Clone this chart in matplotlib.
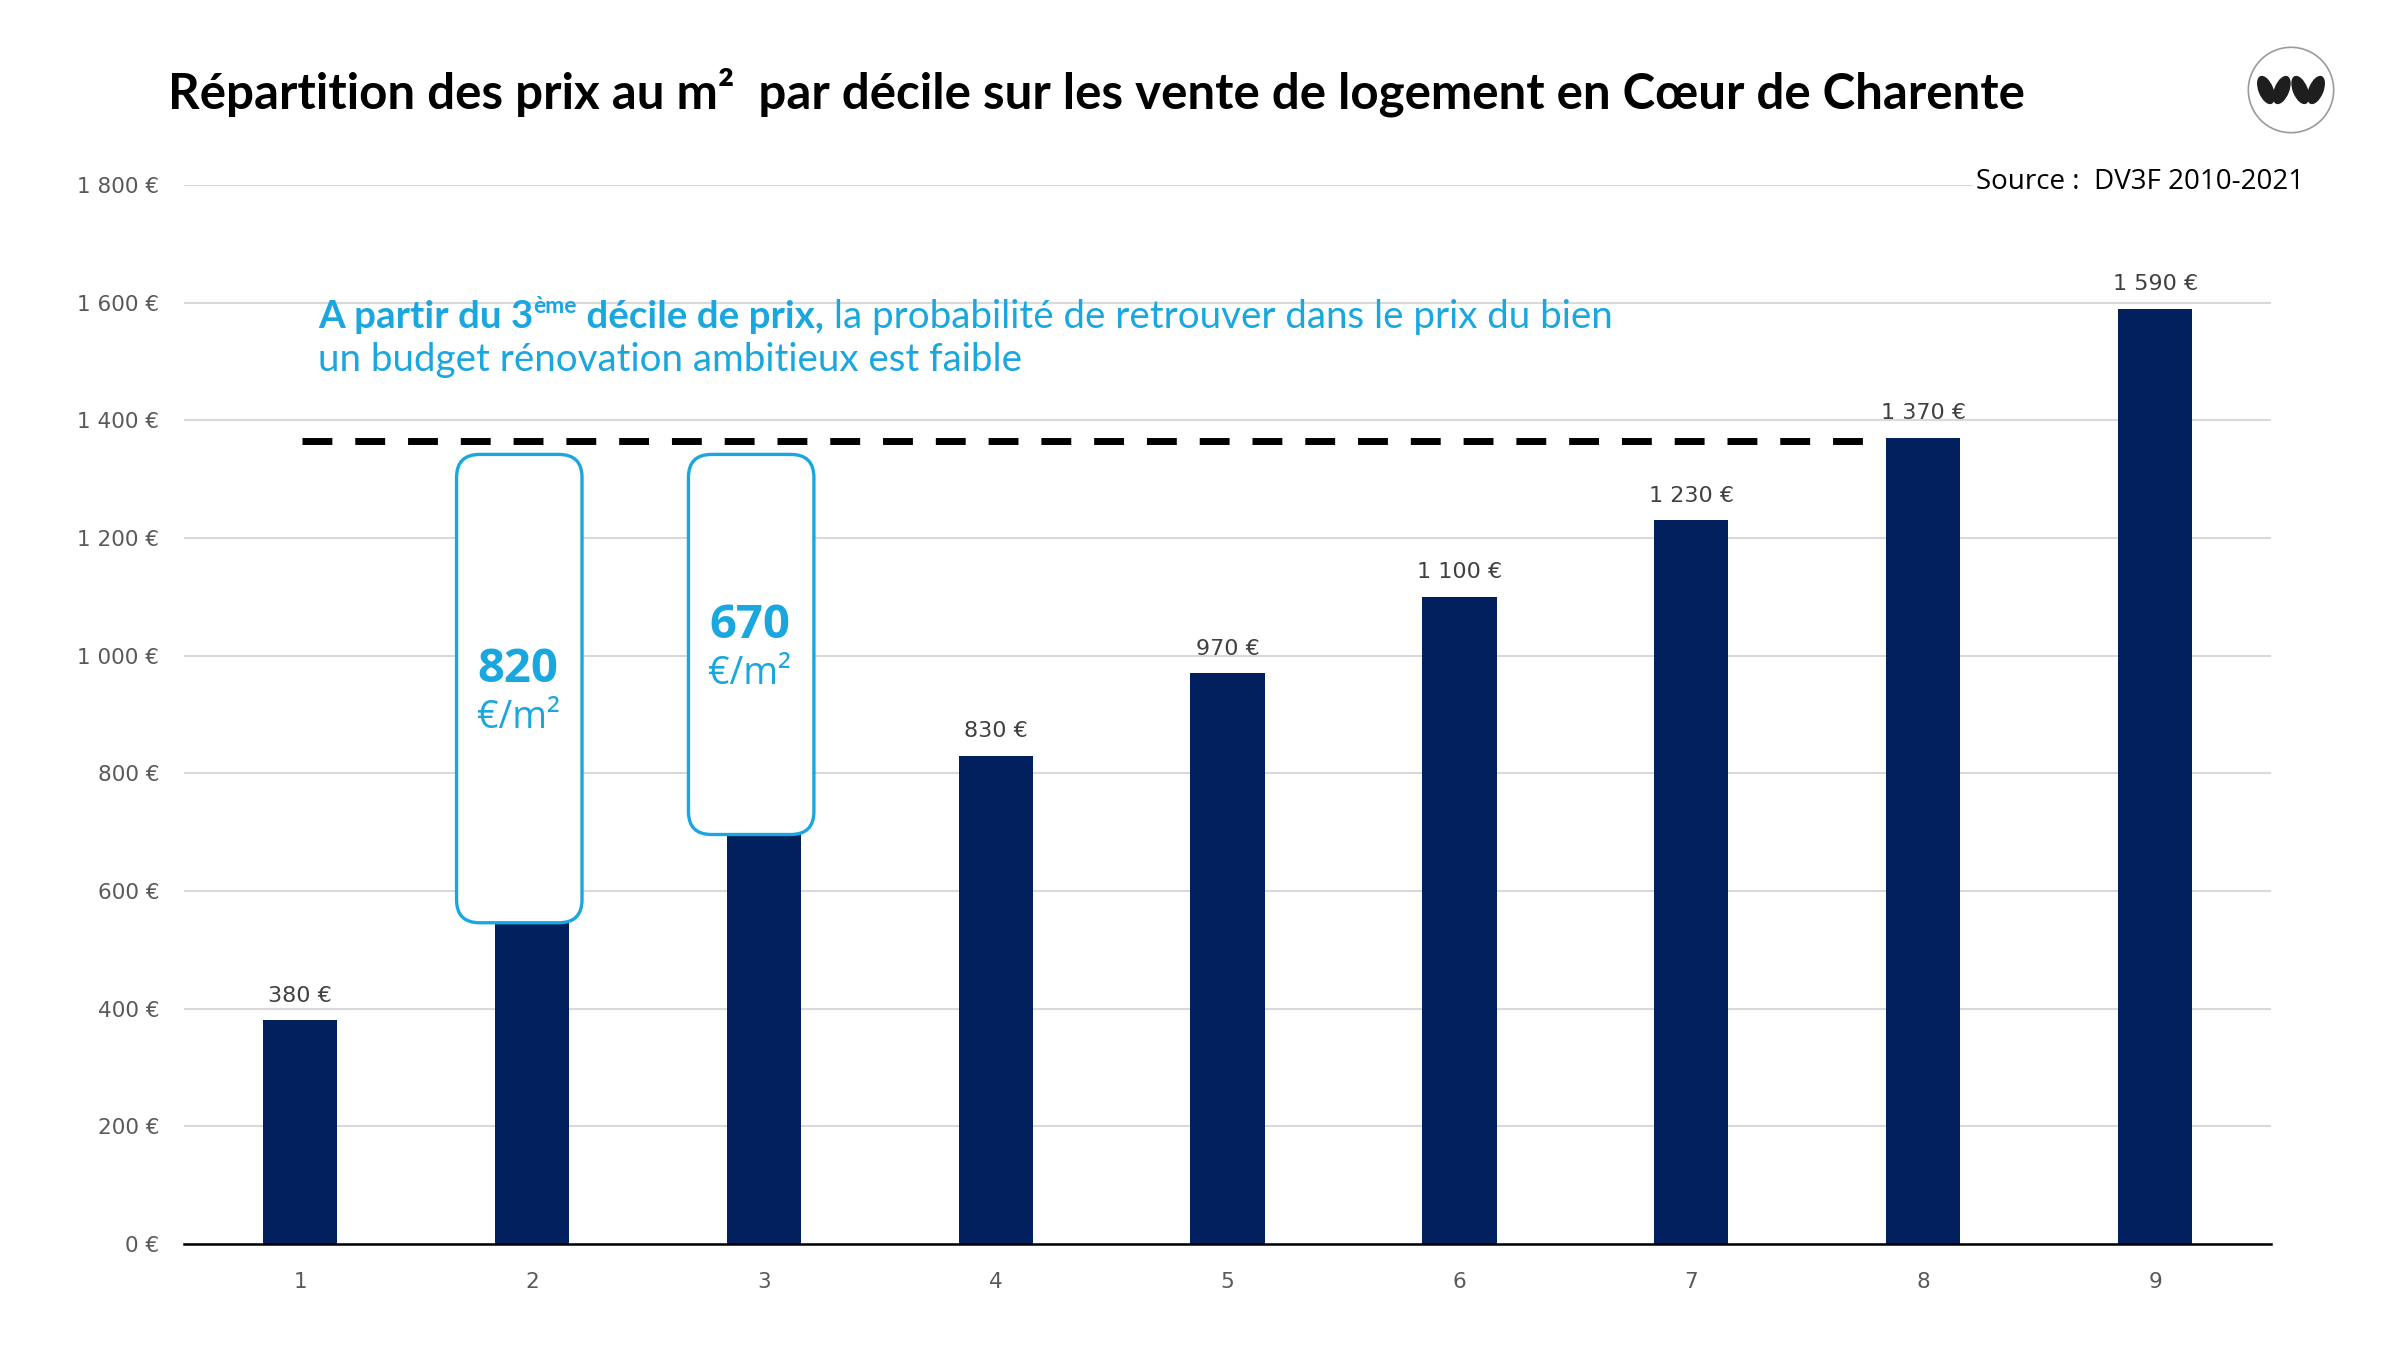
import matplotlib
matplotlib.use("Agg")
import matplotlib.pyplot as plt
from matplotlib.patches import FancyBboxPatch, Circle, Ellipse
import numpy as np

# data
deciles = [1, 2, 3, 4, 5, 6, 7, 8, 9]
prices = [380, 550, 700, 830, 970, 1100, 1230, 1370, 1590]
yticks = [0, 200, 400, 600, 800, 1000, 1200, 1400, 1600, 1800]
gaps = [820, 670]          # écart au 8e décile, déciles 2 et 3
gap_deciles = [2, 3]
ref_price = 1370

NAVY = "#03205E"
BLUE = "#1AA7DF"
GRAY = "#595959"


def fmt(v):
    return f"{v:,}".replace(",", " ") + " €"


fig = plt.figure(figsize=(24, 13.5), dpi=100)
ax = fig.add_axes([0.0767, 0.0785, 0.8696, 0.7845])

ax.bar(deciles, prices, width=0.32, color=NAVY, zorder=2)
for x, v in zip(deciles, prices):
    ax.text(x, v + 25, fmt(v), ha="center", va="bottom", fontsize=16,
            color="#404040", zorder=3)

ax.set_xlim(0.5, 9.5)
ax.set_ylim(0, 1800)
ax.set_yticks(yticks)
ax.set_yticklabels([fmt(v) for v in yticks], fontsize=15.5, color=GRAY)
ax.set_xticks(deciles)
ax.set_xticklabels([str(d) for d in deciles], fontsize=15.5, color=GRAY)
ax.tick_params(length=0, pad=18)
ax.tick_params(axis="x", pad=20)
ax.grid(axis="y", color="#D9D9D9", lw=1.5, zorder=0)
for s in ["top", "right", "left"]:
    ax.spines[s].set_visible(False)
ax.spines["bottom"].set_color("black")
ax.spines["bottom"].set_linewidth(1.8)

# ligne pointillée au niveau du 8e décile
ax.plot([1.01, 7.83], [ref_price - 5, ref_price - 5], color="black", lw=5,
        dashes=(4.3, 3.3), zorder=4)

# encadrés des écarts
for d, g in zip(gap_deciles, gaps):
    base = ref_price - g - 4
    top = 1342
    box = FancyBboxPatch((d - 0.325, base), 0.541, top - base,
                         boxstyle="round,pad=0,rounding_size=0.1",
                         mutation_aspect=390, fc="white", ec=BLUE, lw=2.4, zorder=5)
    ax.add_patch(box)
    mid = (base + top) / 2
    ax.text(d - 0.06, mid + 32, str(g), ha="center", va="center", fontsize=34,
            fontweight="bold", color=BLUE, family="Open Sans", zorder=6)
    ax.text(d - 0.06, mid - 50, "€/m²", ha="center", va="center", fontsize=27,
            color=BLUE, family="Open Sans", zorder=6)

# titre
fig.text(0.07, 0.932, "Répartition des prix au m²  par décile sur les vente de logement en Cœur de Charente",
         fontsize=35.5, fontweight="bold", family="Lato", va="center", ha="left")
fig.text(0.96, 0.865, "Source :  DV3F 2010-2021", fontsize=20, family="Open Sans",
         ha="right", va="center", bbox=dict(fc="white", ec="none", pad=2))

# texte d'annotation en morceaux (gras / normal / exposant)
fig.canvas.draw()
r = fig.canvas.get_renderer()
x0, y1, y2 = 318 / 2400, 1 - 328 / 1350, 1 - 371 / 1350
parts = [("A partir du 3", "bold", 27.7, 0), ("ème", "bold", 16.5, 0.011),
         (" décile de prix,", "bold", 27.7, 0), (" la probabilité de retrouver dans le prix du bien", "normal", 27.7, 0)]
x = x0
for s, w, fs, dy in parts:
    t = fig.text(x, y1 + dy, s, fontsize=fs, fontweight=w, family="Lato", color=BLUE,
                 ha="left", va="baseline")
    bb = t.get_window_extent(renderer=r)
    x += bb.width / fig.bbox.width
fig.text(x0, y2, "un budget rénovation ambitieux est faible", fontsize=27.7,
         family="Lato", color=BLUE, ha="left", va="baseline")

# logo
lax = fig.add_axes([2247 / 2400, 1 - 134 / 1350, 88 / 2400, 88 / 1350])
lax.set_xlim(-1, 1)
lax.set_ylim(-1, 1)
lax.set_aspect("equal")
lax.axis("off")
lax.add_patch(Circle((0, 0), 0.97, fc="white", ec="#9A9A9A", lw=1.2))
for cx, ang in [(-0.57, 22), (-0.21, -22), (0.21, 22), (0.57, -22)]:
    lax.add_patch(Ellipse((cx, 0.0), 0.34, 0.68, angle=ang, fc="#1E1E1E", ec="none"))

fig.savefig("out.png", dpi=100, facecolor="white")
